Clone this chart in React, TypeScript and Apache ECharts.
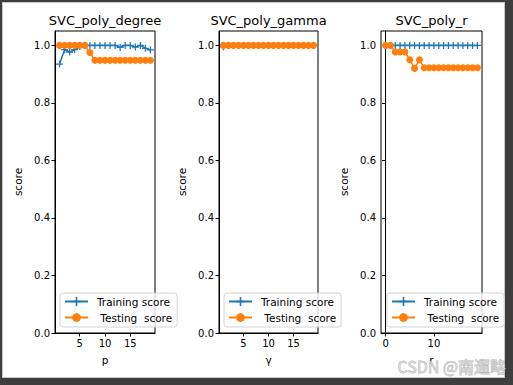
import React, { useEffect, useRef } from "react";
import * as echarts from "echarts";

const titles = ["SVC_poly_degree", "SVC_poly_gamma", "SVC_poly_r"];
const xNames = ["p", "γ", "r"];
const yName = "score";
const trainName = "Training score";
const testName = " Testing  score";

const degreeX = [1, 2, 3, 4, 5, 6, 7, 8, 9, 10, 11, 12, 13, 14, 15, 16, 17, 18, 19];
const degreeTrain = [0.935, 0.985, 0.977, 0.985, 0.995, 1.0, 1.0, 1.0, 1.0, 1.0, 1.0, 1.0, 0.993, 1.0, 1.0, 0.994, 1.0, 0.99, 0.984];
const degreeTest = [1.0, 1.0, 1.0, 1.0, 1.0, 1.0, 0.975, 0.948, 0.948, 0.948, 0.948, 0.948, 0.948, 0.948, 0.948, 0.948, 0.948, 0.948, 0.948];

const gammaX = [1, 2, 3, 4, 5, 6, 7, 8, 9, 10, 11, 12, 13, 14, 15, 16, 17, 18, 19];
const gammaTrain = [0.995, 1.0, 1.0, 1.0, 1.0, 1.0, 1.0, 1.0, 1.0, 1.0, 1.0, 1.0, 1.0, 1.0, 1.0, 1.0, 1.0, 1.0, 1.0];
const gammaTest = [1.0, 1.0, 1.0, 1.0, 1.0, 1.0, 1.0, 1.0, 1.0, 1.0, 1.0, 1.0, 1.0, 1.0, 1.0, 1.0, 1.0, 1.0, 1.0];

const rX = [0, 1, 2, 3, 4, 5, 6, 7, 8, 9, 10, 11, 12, 13, 14, 15, 16, 17, 18, 19];
const rTrain = [1.0, 1.0, 1.0, 1.0, 1.0, 1.0, 1.0, 1.0, 1.0, 1.0, 1.0, 1.0, 1.0, 1.0, 1.0, 1.0, 1.0, 1.0, 1.0, 1.0];
const rTest = [1.0, 1.0, 0.977, 0.977, 0.977, 0.95, 0.92, 0.95, 0.922, 0.922, 0.922, 0.922, 0.922, 0.922, 0.922, 0.922, 0.922, 0.922, 0.922, 0.922];

const yTicks = [0, 0.2, 0.4, 0.6, 0.8, 1.0];
const xTicksA = [5, 10, 15];
const xTicksB = [0, 10];

const watermark = "CSDN @南遛略";

const BLUE = "#1f77b4";
const ORANGE = "#ff7f0e";
const FONT = "DejaVu Sans";
const PLUS = "path://M-0.18,-1H0.18V-0.18H1V0.18H0.18V1H-0.18V0.18H-1V-0.18H-0.18Z";

export default function App() {
  const ref = useRef<HTMLDivElement>(null);
  useEffect(() => {
    const chart = echarts.init(ref.current!, undefined, { renderer: "svg" });
    const grids = [
      { left: 55, top: 31, width: 100, height: 302 },
      { left: 219, top: 31, width: 99, height: 302 },
      { left: 381, top: 31, width: 101, height: 302 },
    ];
    const xRanges = [
      [0.1, 19.9],
      [0.1, 19.9],
      [-0.95, 19.95],
    ];
    const xTickSets = [xTicksA, xTicksA, xTicksB];
    const data = [
      [degreeX, degreeTrain, degreeTest],
      [gammaX, gammaTrain, gammaTest],
      [rX, rTrain, rTest],
    ];
    const legendLefts = [60, 224, 387];

    const series: any[] = [];
    data.forEach(([xs, tr, te], i) => {
      series.push({
        type: "line",
        name: trainName,
        xAxisIndex: i,
        yAxisIndex: i,
        data: xs.map((x, k) => [x, tr[k]]),
        symbol: PLUS,
        symbolSize: 7,
        showAllSymbol: true,
        lineStyle: { color: BLUE, width: 1.5 },
        itemStyle: { color: BLUE },
        z: 2,
      });
      series.push({
        type: "line",
        name: testName,
        xAxisIndex: i,
        yAxisIndex: i,
        data: xs.map((x, k) => [x, te[k]]),
        symbol: "circle",
        symbolSize: 7,
        showAllSymbol: true,
        lineStyle: { color: ORANGE, width: 1.5 },
        itemStyle: { color: ORANGE },
        z: 3,
      });
    });

    const option: any = {
      animation: false,
      backgroundColor: "#ffffff",
      graphic: [
        { type: "rect", shape: { x: 0, y: 0, width: 513, height: 385 }, style: { fill: "#3e3e3e" }, z: -10, silent: true },
        { type: "rect", shape: { x: 2, y: 2, width: 503, height: 376 }, style: { fill: "#c8c8c8" }, z: -9, silent: true },
        { type: "rect", shape: { x: 3, y: 3, width: 501, height: 374 }, style: { fill: "#ffffff" }, z: -8, silent: true },
        {
          type: "text",
          left: 397,
          top: 358,
          z: 100,
          style: {
            text: watermark,
            fontSize: 16,
            fontFamily: "Noto Sans CJK SC",
            fill: "rgba(215,215,215,0.85)",
            stroke: "rgba(90,90,90,0.45)",
            lineWidth: 0.8,
          },
        },
      ],
      title: titles.map((t, i) => ({
        text: t,
        left: grids[i].left + grids[i].width / 2,
        top: 14,
        textAlign: "center",
        padding: 0,
        textStyle: { fontSize: 13, fontWeight: "normal", color: "#000", fontFamily: FONT },
      })),
      legend: legendLefts.map((l) => ({
        orient: "vertical",
        left: l,
        top: 293,
        data: [trainName, testName],
        itemWidth: 23,
        itemHeight: 11,
        itemGap: 5,
        padding: [3, 5, 4, 4],
        backgroundColor: "rgba(255,255,255,0.8)",
        borderColor: "#d4d4d4",
        borderWidth: 1,
        borderRadius: 3,
        selectedMode: false,
        z: 20,
        textStyle: { fontSize: 10.5, color: "#000", fontFamily: FONT, padding: [0, 0, 0, 4] },
      })),
      grid: grids.map((g) => ({
        ...g,
        show: true,
        borderColor: "#000",
        borderWidth: 1,
        backgroundColor: "transparent",
        containLabel: false,
      })),
      xAxis: grids.map((_, i) => ({
        type: "value",
        gridIndex: i,
        min: xRanges[i][0],
        max: xRanges[i][1],
        name: xNames[i],
        nameLocation: "middle",
        nameGap: 21,
        nameTextStyle: { fontSize: 10.5, color: "#000", fontFamily: FONT },
        axisLine: { show: true, lineStyle: { color: "#000", width: 1 } },
        axisTick: { show: true, length: 3.5, lineStyle: { color: "#000" }, customValues: xTickSets[i] },
        axisLabel: { fontSize: 10, color: "#000", fontFamily: FONT, margin: 5, customValues: xTickSets[i] },
        splitLine: { show: false },
      })),
      yAxis: grids.map((_, i) => ({
        type: "value",
        gridIndex: i,
        min: 0,
        max: 1.05,
        name: yName,
        nameLocation: "middle",
        nameGap: 32,
        nameTextStyle: { fontSize: 10.5, color: "#000", fontFamily: FONT },
        axisLine: { show: true, lineStyle: { color: "#000", width: 1 } },
        axisTick: { show: true, length: 3.5, lineStyle: { color: "#000" }, customValues: yTicks },
        axisLabel: {
          fontSize: 10,
          color: "#000",
          fontFamily: FONT,
          margin: 5,
          customValues: yTicks,
          formatter: (v: number) => v.toFixed(1),
        },
        splitLine: { show: false },
      })),
      series,
    };
    chart.setOption(option);
    return () => chart.dispose();
  }, []);
  return <div ref={ref} style={{ position: "absolute", left: 0, top: 0, width: 513, height: 385 }} />;
}
